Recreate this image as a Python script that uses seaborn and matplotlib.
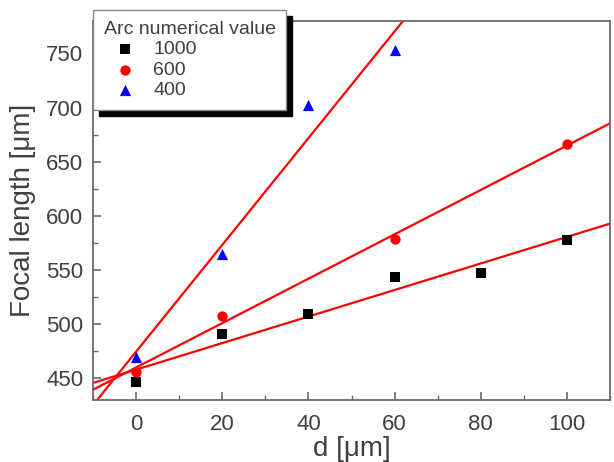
import numpy as np
import pandas as pd
import matplotlib
matplotlib.use("Agg")
import matplotlib.pyplot as plt
import seaborn as sns
from matplotlib.ticker import MultipleLocator

# values
d_1000 = [0, 20, 40, 60, 80, 100]
f_1000 = [447, 491, 509, 544, 547, 578]

d_600 = [0, 20, 60, 100]
f_600 = [456, 508, 579, 666]

d_400 = [0, 20, 40, 60]
f_400 = [470, 565, 702, 753]

series_labels = ["1000", "600", "400"]
series_markers = ["s", "o", "^"]
series_colors = ["black", "red", "blue"]
series_sizes = [55, 55, 65]


def main():
    sns.set_style("ticks")
    plt.rcParams["font.family"] = ["Liberation Sans", "DejaVu Sans"]

    fig = plt.figure(figsize=(6.14, 4.62), dpi=100)
    ax = fig.add_axes([93 / 614, 62 / 462, 517 / 614, 379 / 462])

    ax.set_xlim(-10, 110)
    ax.set_ylim(430, 780)

    data = [(d_1000, f_1000), (d_600, f_600), (d_400, f_400)]

    # fitted lines first, across the whole x range
    for x, y in data:
        sns.regplot(
            x=np.array(x, dtype=float),
            y=np.array(y, dtype=float),
            ax=ax,
            scatter=False,
            truncate=False,
            ci=None,
            line_kws={"color": "red", "linewidth": 1.6, "zorder": 2},
        )

    for (x, y), lab, mk, col, sz in zip(data, series_labels, series_markers,
                                         series_colors, series_sizes):
        sns.scatterplot(
            x=x, y=y, ax=ax, marker=mk, color=col, s=sz,
            linewidth=0, label=lab, zorder=3,
        )

    ax.set_xlim(-10, 110)
    ax.set_ylim(430, 780)

    ax.xaxis.set_major_locator(MultipleLocator(20))
    ax.xaxis.set_minor_locator(MultipleLocator(10))
    ax.yaxis.set_major_locator(MultipleLocator(50))
    ax.yaxis.set_minor_locator(MultipleLocator(25))

    spine_col = "#6a6a6a"
    for sp in ax.spines.values():
        sp.set_color(spine_col)
        sp.set_linewidth(1.3)

    txt_col = "#404040"
    ax.tick_params(which="both", direction="in", colors=spine_col,
                   labelcolor=txt_col, top=False, right=False)
    ax.tick_params(which="major", length=6, width=1.2, labelsize=16, pad=10)
    ax.tick_params(which="minor", length=3.5, width=1.0)
    ax.tick_params(axis="y", which="major", pad=7)

    ax.set_xlabel("d [\u03bcm]", fontsize=20, color=txt_col, labelpad=1)
    ax.set_ylabel("Focal length [\u03bcm]", fontsize=20, color=txt_col, labelpad=7)

    leg = ax.legend(
        title="Arc numerical value",
        loc="upper left",
        bbox_to_anchor=(93 / 614, 1 - 10 / 462),
        bbox_transform=fig.transFigure,
        borderaxespad=0,
        fontsize=14,
        title_fontsize=14,
        alignment="left",
        fancybox=False,
        framealpha=1,
        edgecolor="#888888",
        shadow={"facecolor": "black", "edgecolor": "black", "alpha": 1,
                "ox": 4, "oy": -4},
        labelspacing=0.15,
        handletextpad=0.35,
        borderpad=0.55,
        handlelength=2.2,
    )
    leg.get_frame().set_linewidth(1.0)
    for t in leg.get_texts():
        t.set_color(txt_col)
    leg.get_title().set_color(txt_col)
    leg.set_zorder(5)

    fig.savefig("out.png", dpi=100)


if __name__ == "__main__":
    main()
